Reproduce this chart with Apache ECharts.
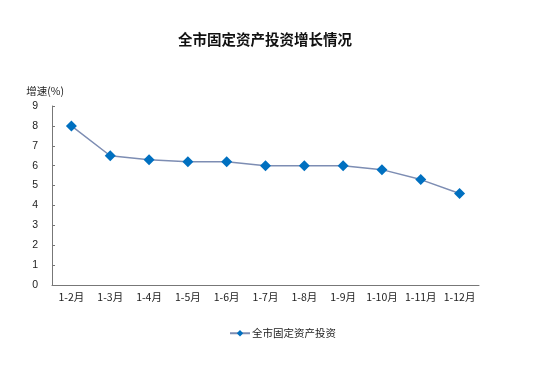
<!DOCTYPE html>
<html><head><meta charset="utf-8">
<script src="https://cdn.jsdelivr.net/npm/echarts@6/dist/echarts.min.js"></script>
<style>html,body{margin:0;padding:0;background:#fff}#c{width:554px;height:366px}</style>
</head><body><div id="c"></div>
<script>
const categories = ['1-2月','1-3月','1-4月','1-5月','1-6月','1-7月','1-8月','1-9月','1-10月','1-11月','1-12月'];
const growth = [8.0, 6.5, 6.3, 6.2, 6.2, 6.0, 6.0, 6.0, 5.8, 5.3, 4.6];
const seriesName = '全市固定资产投资';
const chart = echarts.init(document.getElementById('c'));
chart.setOption({
  animation: false,
  backgroundColor: '#fff',
  title: { text: '全市固定资产投资增长情况', left: 260, textAlign: 'center', top: 27,
    textStyle: { fontSize: 14.5, fontWeight: 'bold', color: '#111', fontFamily: 'Noto Sans CJK SC' } },
  legend: { data: [seriesName], left: 224, top: 323, itemWidth: 20, itemHeight: 8, itemGap: 4,
    textStyle: { fontSize: 10.5, color: '#222', fontFamily: 'Noto Sans CJK SC', padding: [0,0,0,-3] } },
  grid: { left: 52, right: 75, top: 106, bottom: 81 },
  xAxis: { type: 'category', data: categories, boundaryGap: true,
    axisLine: { lineStyle: { color: '#777', width: 1 } },
    axisTick: { inside: true, length: 4, lineStyle: { color: '#777' } },
    axisLabel: { interval: 0, hideOverlap: false, fontSize: 10.5, color: '#222', margin: 7, fontFamily: 'Noto Sans CJK SC' } },
  yAxis: { type: 'value', min: 0, max: 9, interval: 1,
    name: '增速(%)', nameLocation: 'end', nameGap: 10,
    nameTextStyle: { fontSize: 10.5, color: '#222', align: 'right', padding: [0, -12, 0, 0], fontFamily: 'Noto Sans CJK SC' },
    axisLine: { show: true, lineStyle: { color: '#777' } },
    axisTick: { show: true, inside: true, length: 3, lineStyle: { color: '#777' } },
    splitLine: { show: false },
    axisLabel: { fontSize: 10.5, color: '#222', margin: 14, fontFamily: 'Liberation Sans' } },
  series: [{ name: seriesName, type: 'line', data: growth, symbol: 'diamond', symbolSize: 11,
    lineStyle: { color: '#7d8db3', width: 1.5 },
    itemStyle: { color: '#0070c0' } }]
});
</script></body></html>
